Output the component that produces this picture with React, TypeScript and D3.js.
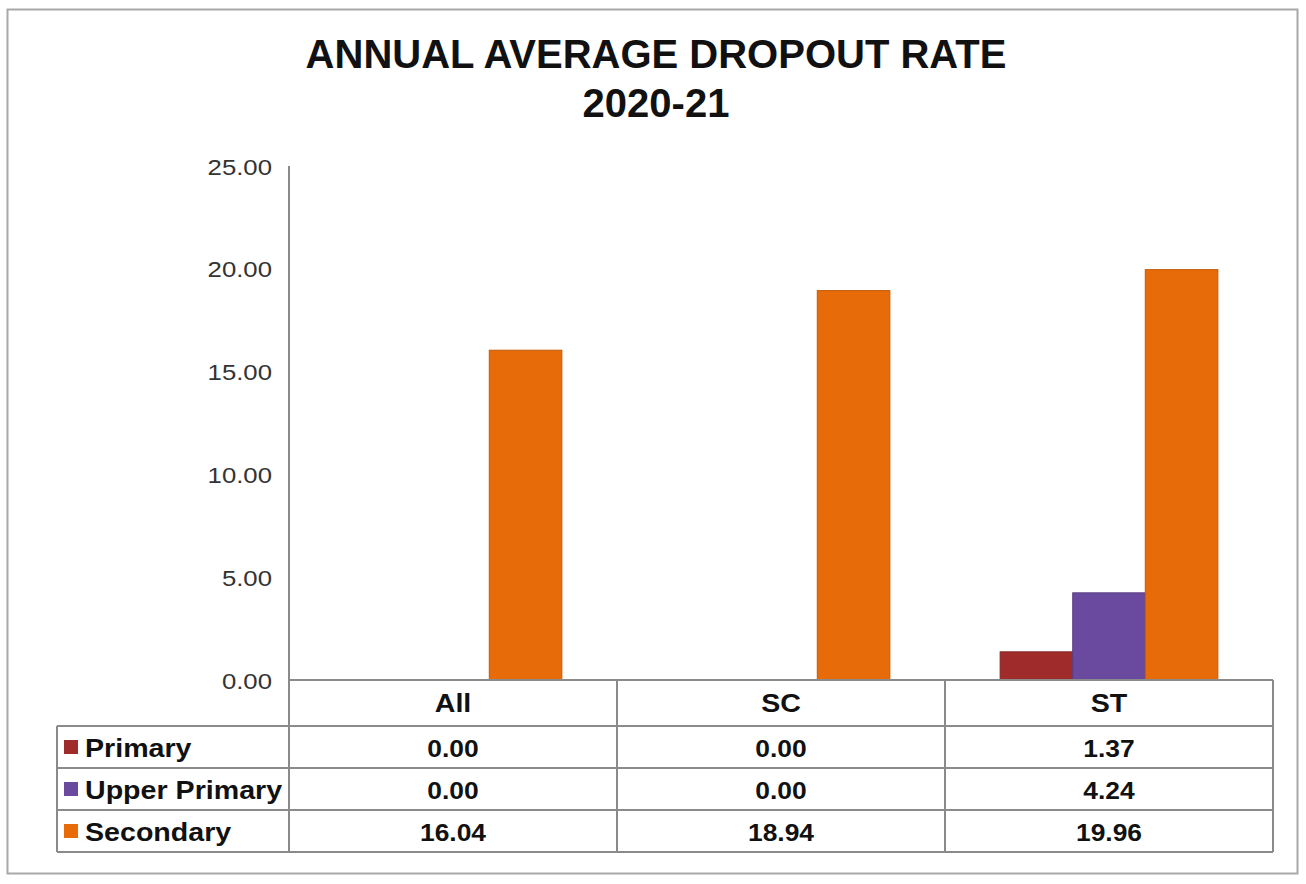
import React from "react";
import * as d3 from "d3";

const TITLE_LINES = ["ANNUAL AVERAGE DROPOUT RATE", "2020-21"];
const categories = ["All", "SC", "ST"];
const seriesNames = ["Primary", "Upper Primary", "Secondary"];
const primary = [0.0, 0.0, 1.37];
const upperPrimary = [0.0, 0.0, 4.24];
const secondary = [16.04, 18.94, 19.96];
const seriesColors = ["#a02b2b", "#6a4a9e", "#e86b0a"];
const yTicks = [0, 5, 10, 15, 20, 25];

const W = 1306;
const H = 884;
const FONT = "'Liberation Sans', Arial, sans-serif";

function SText({ x, y, sx = 1.1, anchor = "middle", size, weight = "normal", fill = "#111", children }: any) {
  return (
    <text
      transform={`translate(${x},${y}) scale(${sx},1)`}
      textAnchor={anchor}
      fontFamily={FONT}
      fontSize={size}
      fontWeight={weight}
      fill={fill}
    >
      {children}
    </text>
  );
}

export default function App() {
  const series = [primary, upperPrimary, secondary];
  const plotLeft = 289;
  const plotRight = 1273;
  const plotTop = 166;
  const plotBottom = 680;
  const tableLeft = 57;
  const headerBottom = 726;
  const rowH = 42;

  const x = d3.scaleBand<string>().domain(categories).range([plotLeft, plotRight]).padding(0);
  const xs = d3
    .scaleBand<string>()
    .domain(seriesNames)
    .range([0, x.bandwidth()])
    .paddingInner(0)
    .paddingOuter(0.76);
  const y = d3.scaleLinear().domain([0, 25]).range([plotBottom, plotTop]);
  const fmt = d3.format(".2f");

  const tableBottom = headerBottom + rowH * seriesNames.length;
  const lineColor = "#8a8a8a";

  return (
    <div style={{ position: "absolute", left: 0, top: 0 }}>
      <svg width={W} height={H} style={{ display: "block", background: "#fff" }}>
        <rect x={7.5} y={9.5} width={1290} height={864} fill="#fff" stroke="#a8a8a8" strokeWidth={2} />

        {TITLE_LINES.map((t, i) => (
          <text
            key={t}
            x={656}
            y={68 + i * 49}
            textAnchor="middle"
            fontFamily={FONT}
            fontSize={40}
            fontWeight="bold"
            fill="#111"
          >
            {t}
          </text>
        ))}

        {/* bars */}
        {categories.map((c, ci) =>
          seriesNames.map((s, si) => {
            const v = series[si][ci];
            if (v <= 0) return null;
            const bx = (x(c) as number) + (xs(s) as number);
            return (
              <rect
                key={c + s}
                x={bx}
                y={y(v)}
                width={xs.bandwidth()}
                height={y(0) - y(v)}
                fill={seriesColors[si]}
                stroke={d3.color(seriesColors[si])!.darker(0.5).toString()}
                strokeWidth={1}
              />
            );
          })
        )}

        {/* y axis */}
        <line x1={plotLeft} x2={plotLeft} y1={plotTop} y2={tableBottom} stroke={lineColor} strokeWidth={2} />
        {yTicks.map((t) => (
          <SText key={t} x={272} y={y(t) + 8.5} anchor="end" size={23} fill="#333" sx={1.12}>
            {fmt(t)}
          </SText>
        ))}

        {/* table */}
        <line x1={plotLeft} x2={plotRight} y1={plotBottom} y2={plotBottom} stroke={lineColor} strokeWidth={2} />
        {categories.map((c) => (
          <line
            key={"v" + c}
            x1={(x(c) as number) + x.bandwidth()}
            x2={(x(c) as number) + x.bandwidth()}
            y1={plotBottom}
            y2={tableBottom}
            stroke={lineColor}
            strokeWidth={2}
          />
        ))}
        <line x1={tableLeft} x2={tableLeft} y1={headerBottom} y2={tableBottom} stroke={lineColor} strokeWidth={2} />
        {d3.range(seriesNames.length + 1).map((i) => (
          <line
            key={"h" + i}
            x1={tableLeft}
            x2={plotRight}
            y1={headerBottom + i * rowH}
            y2={headerBottom + i * rowH}
            stroke={lineColor}
            strokeWidth={2}
          />
        ))}
        {categories.map((c) => (
          <SText key={"c" + c} x={(x(c) as number) + x.bandwidth() / 2} y={712} size={26} weight="bold">
            {c}
          </SText>
        ))}
        {seriesNames.map((s, si) => {
          const rowTop = headerBottom + si * rowH;
          const base = rowTop + rowH / 2 + 9.5;
          return (
            <g key={"r" + s}>
              <rect x={64} y={rowTop + rowH / 2 - 7} width={14} height={14} fill={seriesColors[si]} />
              <SText x={85} y={base} anchor="start" size={26} weight="bold" sx={1.1}>
                {s}
              </SText>
              {categories.map((c, ci) => (
                <SText key={c} x={(x(c) as number) + x.bandwidth() / 2} y={base} size={24} weight="bold">
                  {fmt(series[si][ci])}
                </SText>
              ))}
            </g>
          );
        })}
      </svg>
    </div>
  );
}
